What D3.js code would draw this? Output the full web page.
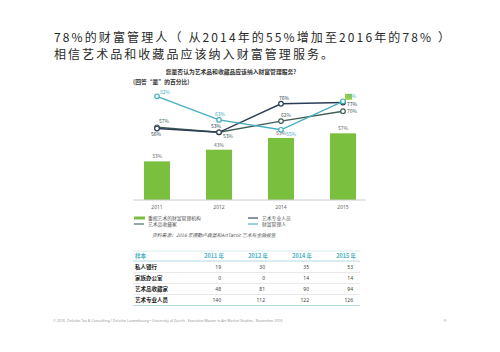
<!DOCTYPE html>
<html>
<head>
<meta charset="utf-8">
<script src="https://cdn.jsdelivr.net/npm/d3@7"></script>
<style>
  body { margin: 0; background: #fff; }
  svg { display: block; font-family: "Noto Sans CJK SC", "Noto Sans", sans-serif; }
</style>
</head>
<body>
<div id="chart"></div>
<script>
// data
const years = ["2011", "2012", "2014", "2015"];
const barValues = [33, 43, 53, 57];
const artProValues = [56, 53, 76, 77];
const collectorValues = [57, 53, 62, 70];
const wealthMgrValues = [82, 63, 55, 78];
const legendLabels = ["重视艺术的财富管理机构", "艺术品收藏家", "艺术专业人员", "财富管理人"];
const tableHeader = ["样本", "2011 年", "2012 年", "2014 年", "2015 年"];
const tableRowLabels = ["私人银行", "家族办公室", "艺术品收藏家", "艺术专业人员"];
const tableValues = [
    [19, 30, 35, 53],
    [0, 0, 14, 14],
    [48, 81, 90, 94],
    [140, 112, 122, 126]
];

const W = 500, H = 352;
const green = "#7bbf3e", navy = "#2b3d55", collectorCol = "#3f5f55", teal = "#45aec0";

const svg = d3.select("#chart").append("svg").attr("width", W).attr("height", H);

// headline
const head = svg.append("g").attr("fill", "#2a2a2a").attr("font-size", 12);
head.append("text").attr("x", 54).attr("y", 41.5)
    .attr("textLength", 396).attr("lengthAdjust", "spacing")
    .text("78%的财富管理人（ 从2014年的55%增加至2016年的78% ）");
head.append("text").attr("x", 54).attr("y", 58.5)
    .attr("textLength", 279).attr("lengthAdjust", "spacing")
    .text("相信艺术品和收藏品应该纳入财富管理服务。");

// chart titles
svg.append("text").attr("x", 231).attr("y", 74).attr("text-anchor", "middle")
    .attr("font-size", 5.8).attr("font-weight", 700).attr("fill", "#333")
    .text("您是否认为艺术品和收藏品应该纳入财富管理服务?");
svg.append("text").attr("x", 133).attr("y", 84)
    .attr("font-size", 5.8).attr("font-weight", 700).attr("fill", "#333")
    .text("(回答“是”的百分比)");

const x = d3.scaleBand().domain(years).range([126, 374]).paddingInner(0.58).paddingOuter(0.29);
const yBar = d3.scaleLinear().domain([0, 100]).range([200, 83]);
const yLine = d3.scaleLinear().domain([0, 100]).range([198, 74]);
const cx = (d) => x(d) + x.bandwidth() / 2;

// bars
svg.selectAll(".bar").data(barValues).enter().append("rect")
    .attr("class", "bar")
    .attr("x", (d, i) => x(years[i]))
    .attr("y", (d) => yBar(d))
    .attr("width", x.bandwidth())
    .attr("height", (d) => yBar(0) - yBar(d))
    .attr("fill", green);
svg.selectAll(".bar-label").data(barValues).enter().append("text")
    .attr("x", (d, i) => cx(years[i]))
    .attr("y", (d) => yBar(d) - 3)
    .attr("text-anchor", "middle").attr("font-size", 5).attr("fill", "#666")
    .text((d) => d + "%");

// axis
const axis = svg.append("g").attr("transform", "translate(0,200)")
    .call(d3.axisBottom(x).tickSize(0).tickPadding(5));
axis.select(".domain").attr("stroke", "#ccc").attr("d", "M133,0H366");
axis.selectAll("text").attr("font-size", 5).attr("fill", "#666").attr("font-family", "Noto Sans");

// highlight behind 2015 wealth manager value
svg.append("rect")
    .attr("x", cx("2015") + 2).attr("y", yLine(78) - 7.5).attr("width", 7).attr("height", 6)
    .attr("fill", "#9bd23c");

// lines
const series = [
    { values: collectorValues, color: collectorCol, labelPos: [[2, -4], [4, 6], [0, -4], [4, 2]] },
    { values: artProValues, color: navy, labelPos: [[-6, 7], [-8, -4], [-2, -4], [4, 3]] },
    { values: wealthMgrValues, color: teal, labelPos: [[3, -2], [-4, -4], [5, 6], [3, -3]] }
];
const line = d3.line().x((d, i) => cx(years[i])).y((d) => yLine(d));

series.forEach((s) => {
    const g = svg.append("g");
    g.append("path").datum(s.values).attr("d", line)
        .attr("fill", "none").attr("stroke", s.color).attr("stroke-width", 1.4);
    g.selectAll("circle").data(s.values).enter().append("circle")
        .attr("cx", (d, i) => cx(years[i])).attr("cy", (d) => yLine(d))
        .attr("r", 2.3).attr("fill", "#fff").attr("stroke", s.color).attr("stroke-width", 1.2);
    g.selectAll("text").data(s.values).enter().append("text")
        .attr("x", (d, i) => cx(years[i]) + s.labelPos[i][0])
        .attr("y", (d, i) => yLine(d) + s.labelPos[i][1])
        .attr("font-size", 5).attr("fill", s.color)
        .text((d) => d + "%");
});

// legend
const lg = svg.append("g").attr("font-size", 4.8).attr("fill", "#555");
const legendItems = [
    { label: legendLabels[0], type: "bar", color: green, x: 134, y: 218 },
    { label: legendLabels[1], type: "line", color: collectorCol, x: 134, y: 224 },
    { label: legendLabels[2], type: "line", color: navy, x: 248, y: 218 },
    { label: legendLabels[3], type: "line", color: teal, x: 248, y: 224 }
];
legendItems.forEach((d) => {
    if (d.type === "bar") {
        lg.append("rect").attr("x", d.x).attr("y", d.y - 1.5).attr("width", 11).attr("height", 3).attr("fill", d.color);
    } else {
        lg.append("line").attr("x1", d.x).attr("x2", d.x + 10).attr("y1", d.y).attr("y2", d.y)
            .attr("stroke", d.color).attr("stroke-width", 1.1);
    }
    lg.append("text").attr("x", d.x + 14).attr("y", d.y + 1.7).text(d.label);
});
svg.append("text").attr("x", 152).attr("y", 237).attr("font-size", 4.8).attr("fill", "#555")
    .attr("font-style", "italic")
    .text("资料来源：2016 年德勤卢森堡和ArtTactic 艺术与金融报告");

// table
const colRight = [224, 268, 312, 356];
const tb = svg.append("g");
const rowY = d3.scaleLinear().domain([0, 1]).range([269, 280]);
tb.append("line").attr("x1", 133).attr("x2", 360).attr("y1", 251).attr("y2", 251).attr("stroke", "#cfe6ea").attr("stroke-width", 0.8);
tb.append("line").attr("x1", 133).attr("x2", 360).attr("y1", 261).attr("y2", 261).attr("stroke", "#9fd0d9").attr("stroke-width", 0.8);
tableHeader.forEach((h, i) => {
    tb.append("text").attr("x", i === 0 ? 135 : colRight[i - 1]).attr("y", 258)
        .attr("text-anchor", i === 0 ? "start" : "end")
        .attr("font-size", 5.5).attr("font-weight", 700).attr("fill", "#4ab0c2").text(h);
});
tableRowLabels.forEach((r, ri) => {
    const yy = rowY(ri);
    tb.append("text").attr("x", 135).attr("y", yy).attr("font-size", 5.5).attr("font-weight", 700)
        .attr("fill", "#222").text(r);
    tableValues[ri].forEach((v, ci) => {
        tb.append("text").attr("x", colRight[ci] - 3).attr("y", yy).attr("text-anchor", "end")
            .attr("font-size", 5).attr("fill", "#444").attr("font-family", "Noto Sans").text(v);
    });
    tb.append("line").attr("x1", 133).attr("x2", 360).attr("y1", yy + 3.5).attr("y2", yy + 3.5)
        .attr("stroke", ri === tableRowLabels.length - 1 ? "#9fd0d9" : "#e3e3e3").attr("stroke-width", 0.8);
});

// footer
svg.append("text").attr("x", 53).attr("y", 322).attr("font-size", 3.6).attr("fill", "#999")
    .attr("font-family", "Noto Sans")
    .text("© 2016. Deloitte Tax & Consulting / Deloitte Luxembourg • University of Zurich - Executive Master in Art Market Studies - November 2016");
svg.append("text").attr("x", 444).attr("y", 322).attr("font-size", 3.6).attr("fill", "#999").text("9");
</script>
</body>
</html>
